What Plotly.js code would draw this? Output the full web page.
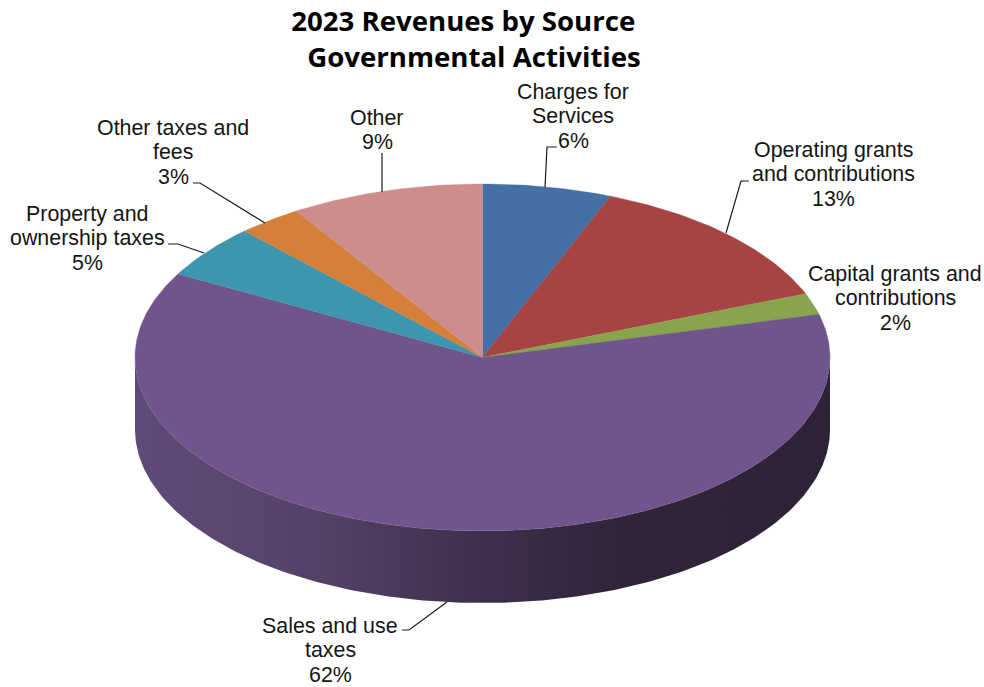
<!DOCTYPE html>
<html>
<head>
<meta charset="utf-8">
<title>2023 Revenues by Source</title>
<script src="https://cdn.plot.ly/plotly-3.0.1.min.js"></script>
<style>html,body{margin:0;padding:0;background:#fff}</style>
</head>
<body>
<div id="chart" style="width:984px;height:687px"></div>
<script>
// Revenue shares, clockwise from twelve o'clock
const categories = [['Charges for', 'Services'], ['Operating grants', 'and contributions'], ['Capital grants and', 'contributions'], ['Sales and use', 'taxes'], ['Property and', 'ownership taxes'], ['Other taxes and', 'fees'], ['Other']];
const shares = [6, 13, 2, 62, 5, 3, 9];
const sliceColors = ['#4470A5', '#A54442', '#88A44D', '#70558C', '#3E96AE', '#D4803A', '#CC8D8C'];

// Label anchors, one per category
const labelX = [573, 833, 895, 330, 87, 173, 377];
const labelY = [116, 174, 298, 650, 238, 152, 130];
const labelLineStep = 24.5;

// Leader line paths between labels and slices
const leaders = [
  'M557,147 L547,147 L545,187',
  'M749,181 L741,181 L726,233',
  'M402,630 L409,630 L447,602',
  'M168,244 L178,244 L204,253',
  'M193,183 L200,183 L265,223',
  'M382,153 L382,192'
];

// Tilted disc geometry, in axis units
const disc = {cx: 482.5, cy: 357.5, rx: 347.5, ry: 173.5, depth: 72};
const wallStops = [[0, '#5F4B78'], [0.25, '#564268'], [0.5, '#3F2E4D'], [0.7, '#30243A'], [1, '#2E2237']];

function rimPoint(share, drop) {
  const a = share / 100 * 2 * Math.PI;
  return [disc.cx + disc.rx * Math.sin(a), disc.cy - disc.ry * Math.cos(a) + (drop || 0)];
}

function arc(from, to, drop) {
  const n = Math.max(2, Math.ceil(Math.abs(to - from) * 4));
  const pts = [];
  for (let i = 0; i <= n; i++) pts.push(rimPoint(from + (to - from) * i / n, drop));
  return pts;
}

const traces = [];

// Front wall of the disc, from the rightmost rim point round to the leftmost
const wallPts = arc(25, 75, 0).concat(arc(75, 25, disc.depth));
traces.push({
  type: 'scatter', mode: 'lines', name: 'Sales and use taxes (side)',
  x: wallPts.map(p => p[0]), y: wallPts.map(p => p[1]),
  fill: 'toself', line: {width: 0, color: '#3F2E4D'},
  fillgradient: {type: 'horizontal', colorscale: wallStops},
  hoverinfo: 'skip', showlegend: false
});

// Top face slices
let start = 0;
shares.forEach((share, i) => {
  const pts = [[disc.cx, disc.cy]].concat(arc(start, start + share, 0), [[disc.cx, disc.cy]]);
  traces.push({
    type: 'scatter', mode: 'lines', name: categories[i].join(' '),
    x: pts.map(p => p[0]), y: pts.map(p => p[1]),
    fill: 'toself', fillcolor: sliceColors[i],
    line: {width: 0.4, color: sliceColors[i]},
    hoverinfo: 'skip', showlegend: false
  });
  start += share;
});

// Each label line is its own annotation so the line pitch stays tight at this font size
const annotations = [];
categories.forEach((lines, i) => {
  const all = lines.concat(shares[i] + '%');
  all.forEach((text, k) => {
    annotations.push({
      text: text,
      x: labelX[i], y: labelY[i] + (k - (all.length - 1) / 2) * labelLineStep,
      xref: 'x', yref: 'y', xanchor: 'center', yanchor: 'middle', align: 'center',
      showarrow: false,
      font: {family: 'Liberation Sans, Arial, sans-serif', size: 21.4, color: '#151515'}
    });
  });
});

const layout = {
  width: 984, height: 687,
  margin: {l: 0, r: 0, t: 0, b: 0},
  paper_bgcolor: '#fff', plot_bgcolor: '#fff',
  showlegend: false,
  title: {
    text: '<b>2023 Revenues by Source\u00A0\u00A0\u00A0<br>Governmental Activities</b>',
    x: 0.4817, xanchor: 'center', y: 0.9543, yanchor: 'middle',
    font: {family: 'Open Sans, sans-serif', size: 27.6, color: '#000'}
  },
  xaxis: {range: [0, 984], visible: false, fixedrange: true},
  yaxis: {range: [687, 0], visible: false, fixedrange: true},
  shapes: leaders.map(path => ({
    type: 'path', path: path, xref: 'x', yref: 'y',
    line: {color: '#1a1a1a', width: 1.2}
  })),
  annotations: annotations
};

Plotly.newPlot('chart', traces, layout, {displayModeBar: false, staticPlot: true});
</script>
</body>
</html>
